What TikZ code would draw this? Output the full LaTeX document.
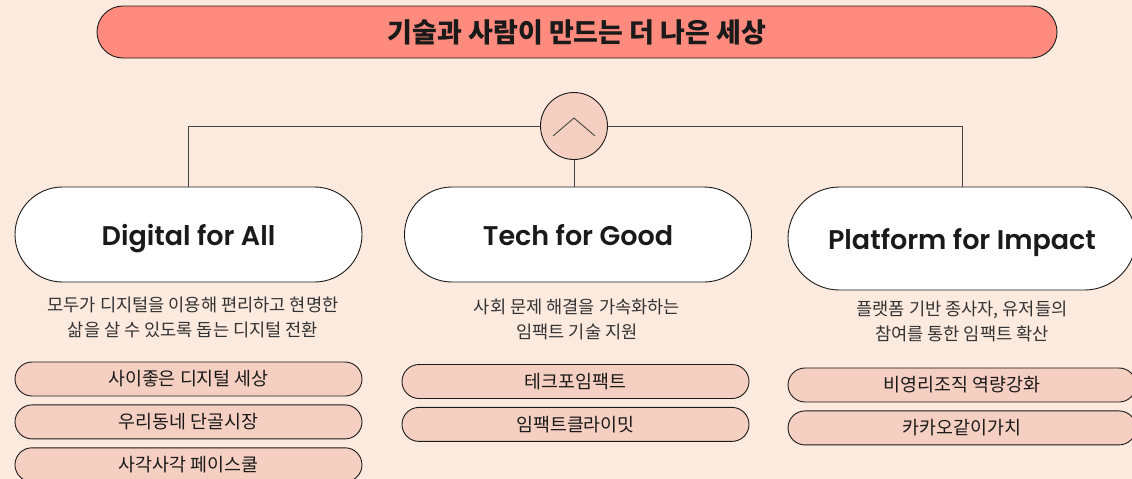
\documentclass[tikz,border=0pt]{standalone}
\usepackage{fontspec}
\setmainfont{Noto Sans CJK KR}
\IfFontExistsTF{Poppins SemiBold}
  {\newfontfamily\headfont{Poppins SemiBold}}
  {\newfontfamily\headfont{Poppins}[UprightFont=*,UprightFeatures={FakeBold=1.2}]}
\usetikzlibrary{positioning,shapes.misc}
\definecolor{paper}{HTML}{FDEADF}
\definecolor{salmon}{HTML}{FF8A7E}
\definecolor{blush}{HTML}{F5CFC1}
\definecolor{ink}{HTML}{1A1A1A}
\definecolor{muted}{HTML}{333333}
\definecolor{wire}{HTML}{444444}
\tikzset{
  link/.style={draw=wire,line width=1pt},
  pill/.style={rounded rectangle,draw=ink,line width=0.9pt,inner sep=0pt,align=center,text=ink},
  banner/.style={pill,fill=salmon,minimum width=960pt,minimum height=52pt,
                 font=\fontsize{27}{30}\selectfont\bfseries},
  pillar/.style={pill,fill=white,minimum width=347pt,minimum height=95pt,text depth=0pt,
                 font=\headfont\fontsize{27}{32}\selectfont},
  item/.style={pill,fill=blush,minimum width=347pt,minimum height=34pt,
               font=\fontsize{18.4}{20}\selectfont},
  blurb/.style={align=center,text=muted,inner sep=0pt,font=\fontsize{17.6}{25}\selectfont},
  hub/.style={circle,draw=ink,line width=0.9pt,fill=blush,minimum size=67pt,inner sep=0pt}
}
\begin{document}
\begin{tikzpicture}[x=1pt,y=-1pt]
  \fill[paper] (0,0) rectangle (1132,479);
  \useasboundingbox (0,0) rectangle (1132,479);
  \node[banner] (title) at (577,32) {기술과 사람이 만드는 더 나은 세상};
  \node[hub] (hub) at (574,126) {};
  \draw[link,line width=0.9pt] ([shift={(-21,10)}]hub.center) -- ([shift={(0,-8)}]hub.center) -- ([shift={(21,10)}]hub.center);
  % three pillars
  \node[pillar] (dfa) at (188.5,234.5) {Digital for All};
  \node[pillar] (tfg) at (578,234.5) {Tech for Good};
  \node[pillar,minimum width=348pt,minimum height=103pt] (pfi) at (962,238.5) {Platform for Impact};
  \draw[link] (hub.west) -| (dfa.north);
  \draw[link] (hub.east) -| (pfi.north);
  \draw[link] (hub.south) -- (hub.south |- tfg.north);
  % descriptions
  \node[blurb] (dfa-txt) at (193,317) {모두가 디지털을 이용해 편리하고 현명한\\삶을 살 수 있도록 돕는 디지털 전환};
  \node[blurb] (tfg-txt) at (577,319) {사회 문제 해결을 가속화하는\\임팩트 기술 지원};
  \node[blurb] (pfi-txt) at (962,321) {플랫폼 기반 종사자, 유저들의\\참여를 통한 임팩트 확산};
  % programmes
  \node[item] (dfa1) at (188.5,379) {사이좋은 디지털 세상};
  \node[item,below=8pt of dfa1] (dfa2) {우리동네 단골시장};
  \node[item,below=8pt of dfa2] (dfa3) {사각사각 페이스쿨};
  \node[item] (tfg1) at (575.5,381.5) {테크포임팩트};
  \node[item,below=8pt of tfg1] (tfg2) {임팩트클라이밋};
  \node[item,minimum width=348pt] (pfi1) at (962,385) {비영리조직 역량강화};
  \node[item,minimum width=348pt,below=8pt of pfi1] (pfi2) {카카오같이가치};
\end{tikzpicture}
\end{document}
